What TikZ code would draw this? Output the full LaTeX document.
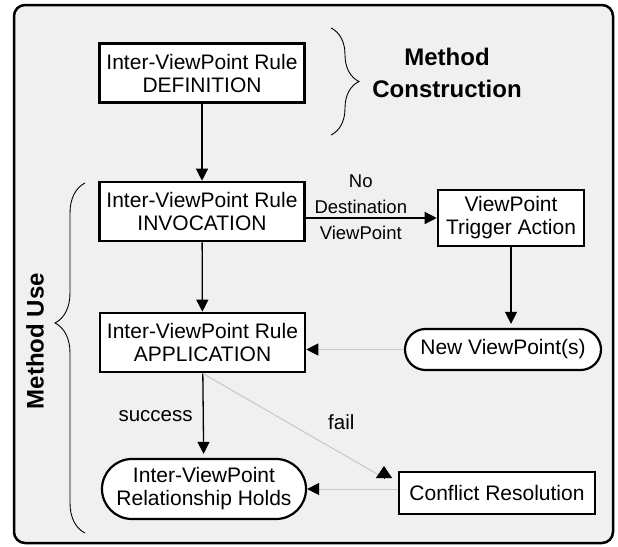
\documentclass[tikz,border=0pt]{standalone}
\usepackage{fontspec}
\setmainfont{Liberation Sans}
\usetikzlibrary{arrows.meta,decorations.pathreplacing,shapes.misc}

\begin{document}
\begin{tikzpicture}[x=1pt,y=-1pt,every node/.style={font=\fontsize{21}{23}\selectfont,align=center,inner sep=2pt},stepbox/.style={rectangle,draw,line width=2.6pt,fill=white,minimum width=205pt,minimum height=59pt},endbox/.style={rounded rectangle,draw,line width=2.2pt,fill=white},edge label/.style={font=\fontsize{18.5}{26}\selectfont},cond label/.style={font=\fontsize{20.5}{24}\selectfont,text=black},flow/.style={draw,line width=1.3pt,-{Triangle[length=12pt,width=12pt]}},back/.style={draw,line width=1pt,black!22,-{Triangle[length=12pt,width=12pt,color=black]}},curly/.style={decorate,decoration={brace,amplitude=28pt},line width=0.9pt}]
\path[fill=white,use as bounding box] (0,0) rectangle (618,546);
\draw[line width=2.5pt,rounded corners=11pt,fill=black!6] (14,5) rectangle (613,543);
\node[stepbox] (def) at (202,73) {Inter-ViewPoint Rule\\DEFINITION};
\node[stepbox] (inv) at (202,211.5) {Inter-ViewPoint Rule\\INVOCATION};
\node[stepbox] (app) at (202.5,342.5) {Inter-ViewPoint Rule\\APPLICATION};
\node[stepbox,minimum width=146pt,minimum height=56pt] (trig) at (511,218) {ViewPoint\\Trigger Action};
\node[endbox,minimum width=200pt,minimum height=41pt] (newvp) at (503,349.5) {New ViewPoint(s)};
\node[endbox,minimum width=208pt,minimum height=60pt] (holds) at (204,489) {Inter-ViewPoint\\Relationship Holds};
\node[stepbox,minimum width=196pt,minimum height=42pt] (conf) at (497,493) {Conflict Resolution};
\node[font=\bfseries\fontsize{24}{32}\selectfont] (mcon) at (447,73) {Method\\Construction};
\node[font=\bfseries\fontsize{24}{28}\selectfont,rotate=90] (muse) at (35,341) {Method Use};
\coordinate (failend) at (384,478);
\draw[curly] (331,28) -- (331,135);
\draw[curly,decoration={mirror,aspect=0.4,amplitude=30pt}] (85,183) -- (85,533);
\draw[flow] (def) -- (inv);
\draw[flow] (inv.east |- trig) -- (trig.west)
node[edge label,pos=0.42,above=2pt] {No\\Destination}
node[edge label,pos=0.42,below=5pt] {ViewPoint};
\draw[flow] (inv) -- (app);
\draw[flow,shorten >=4pt] (trig) -- (trig |- newvp.north);
\draw[back] (newvp.west) -- (newvp.west -| app.east);
\draw[flow,shorten >=4pt] (app) -- (holds)
node[cond label,midway,left=8pt] {success};
\draw[line width=1pt,black!22] (app.south) -- (failend)
node[cond label,pos=0.55,xshift=39pt,yshift=9pt] {fail};
\draw[line width=1pt,-{Triangle[length=12pt,width=16pt]}] (failend) -- ++(0,-12);
\draw[back] (conf.west |- holds) -- (holds.east);
\end{tikzpicture}
\end{document}
